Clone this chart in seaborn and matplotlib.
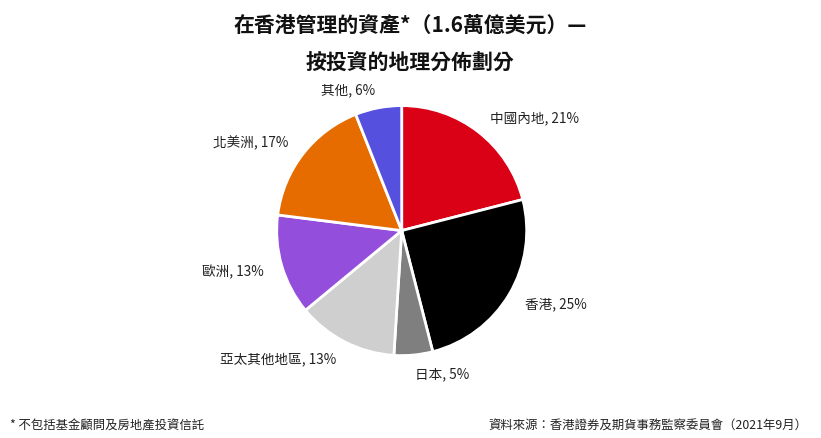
import numpy as np
import seaborn as sns
import matplotlib.pyplot as plt

regions = ["中國內地", "香港", "日本", "亞太其他地區", "歐洲", "北美洲", "其他"]
shares = [21, 25, 5, 13, 13, 17, 6]
colors = ["#DA0015", "#000000", "#7F7F7F", "#D0CFD0", "#934FDB", "#E66C00", "#5551DE"]

title_1 = "在香港管理的資產*（1.6萬億美元）—"
title_2 = "按投資的地理分佈劃分"
note_left = "* 不包括基金顧問及房地產投資信託"
note_right = "資料來源：香港證券及期貨事務監察委員會（2021年9月）"

sns.set_theme(style="white")
plt.rcParams["font.family"] = ["Noto Sans CJK TC", "DejaVu Sans"]

W, H = 821, 439
fig = plt.figure(figsize=(W / 100, H / 100), dpi=100)
fig.patch.set_facecolor("white")

# pie centre ~ (402, 231) px, radius ~125 px
cx, cy, r = 401.7, 231.6, 125
lim = 1.5
half = r * lim
ax = fig.add_axes([(cx - half) / W, (H - cy - half) / H, 2 * half / W, 2 * half / H])

labels = [f"{n}, {v}%" for n, v in zip(regions, shares)]
wedges, texts = ax.pie(
    shares,
    labels=labels,
    colors=colors,
    startangle=90,
    counterclock=False,
    labeldistance=1.15,
    wedgeprops=dict(edgecolor="white", linewidth=2),
    textprops=dict(fontsize=9.8, color="#222222"),
)
ax.set_xlim(-lim, lim)
ax.set_ylim(-lim, lim)
ax.set_aspect("equal")
ax.set_axis_off()

fig.text(410 / W, 1 - 25 / H, title_1, ha="center", va="center",
         fontsize=15, fontweight="bold", color="#111111")
fig.text(410 / W, 1 - 62 / H, title_2, ha="center", va="center",
         fontsize=15, fontweight="bold", color="#111111")
fig.text(10 / W, 1 - 426 / H, note_left, ha="left", va="center",
         fontsize=8.9, color="#222222")
fig.text(807 / W, 1 - 426 / H, note_right, ha="right", va="center",
         fontsize=8.9, color="#222222")

fig.savefig("out.png", dpi=100, facecolor="white")
